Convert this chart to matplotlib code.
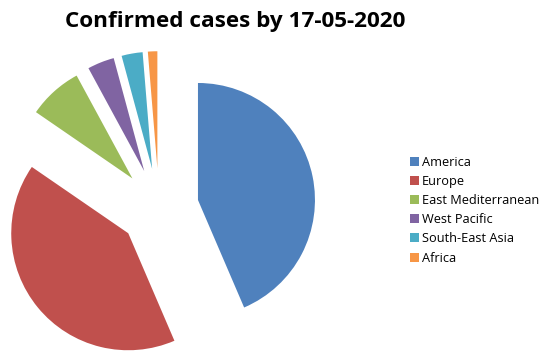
import matplotlib
matplotlib.use("Agg")
import matplotlib.pyplot as plt
from matplotlib.patches import Patch

regions = ["America", "Europe", "East Mediterranean", "West Pacific", "South-East Asia", "Africa"]
shares = [43.5, 41.0, 7.5, 3.7, 2.9, 1.3]
colors = ["#4F81BD", "#C0504D", "#9BBB59", "#8064A2", "#4BACC6", "#F79646"]
title = "Confirmed cases by 17-05-2020"

W, H = 543, 354
fig = plt.figure(figsize=(W / 100, H / 100), dpi=100)
ax = fig.add_axes([0, 0, 1, 1])

R = 117
ax.pie(shares, colors=colors, startangle=90, counterclock=False,
       radius=R, center=(159, H - 208), explode=[0.34 * R] * len(shares),
       wedgeprops=dict(linewidth=0))
ax.set_xlim(0, W)
ax.set_ylim(0, H)
ax.set_aspect("auto")
ax.axis("off")

fig.text(235 / W, 1 - 22 / H, title, ha="center", va="center",
         fontsize=16.2, fontweight="bold", family=["Open Sans", "DejaVu Sans"])

handles = [Patch(facecolor=c, edgecolor="none") for c in colors]
leg = fig.legend(handles, regions, loc="upper left", bbox_to_anchor=(406 / W, 1 - 152 / H),
                 frameon=False, prop=dict(family=["Open Sans", "DejaVu Sans"], size=9.2),
                 handlelength=0.7, handleheight=0.7, handletextpad=0.25,
                 labelspacing=0.48, borderaxespad=0, borderpad=0.3)

fig.savefig("out.png", dpi=100)
